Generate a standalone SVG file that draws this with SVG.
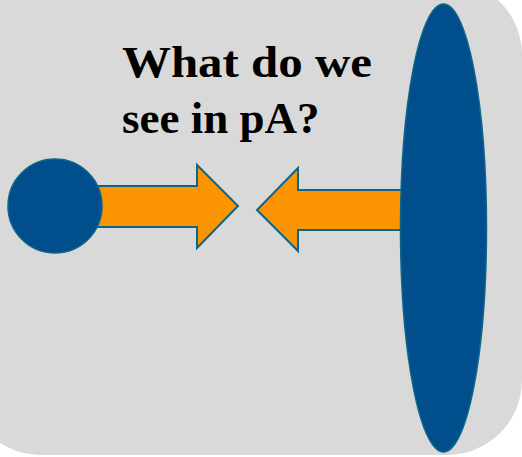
<svg xmlns="http://www.w3.org/2000/svg" width="522" height="457" viewBox="0 0 522 457">
<style>
.blue{fill:#004f8c;stroke:#0d6689;stroke-width:1.5}
.arrow{fill:#fa9400;stroke:#0d6689;stroke-width:2;stroke-linejoin:miter}
.t{font-family:"Liberation Serif",serif;font-weight:bold;font-size:45px;fill:#000}
</style>
<rect x="-34" y="-20" width="556" height="475" rx="75" ry="75" fill="#d9d9d9"/>
<g id="connectors">
<path class="arrow" d="M60,186 L197,186 L197,165 L238,206 L197,248 L197,227 L60,227 Z"/>
<path class="arrow" d="M420,190 L298,190 L298,168 L257,210 L298,251 L298,230 L420,230 Z"/>
</g>
<g id="left-circle"><circle class="blue" cx="55" cy="206" r="47"/></g>
<g id="right-ellipse"><ellipse class="blue" cx="443.5" cy="228" rx="43" ry="224"/></g>
<g id="title">
<text class="t" x="122" y="77" textLength="250" lengthAdjust="spacingAndGlyphs">What do we</text>
<text class="t" x="122" y="133">see in pA?</text>
</g>
</svg>
